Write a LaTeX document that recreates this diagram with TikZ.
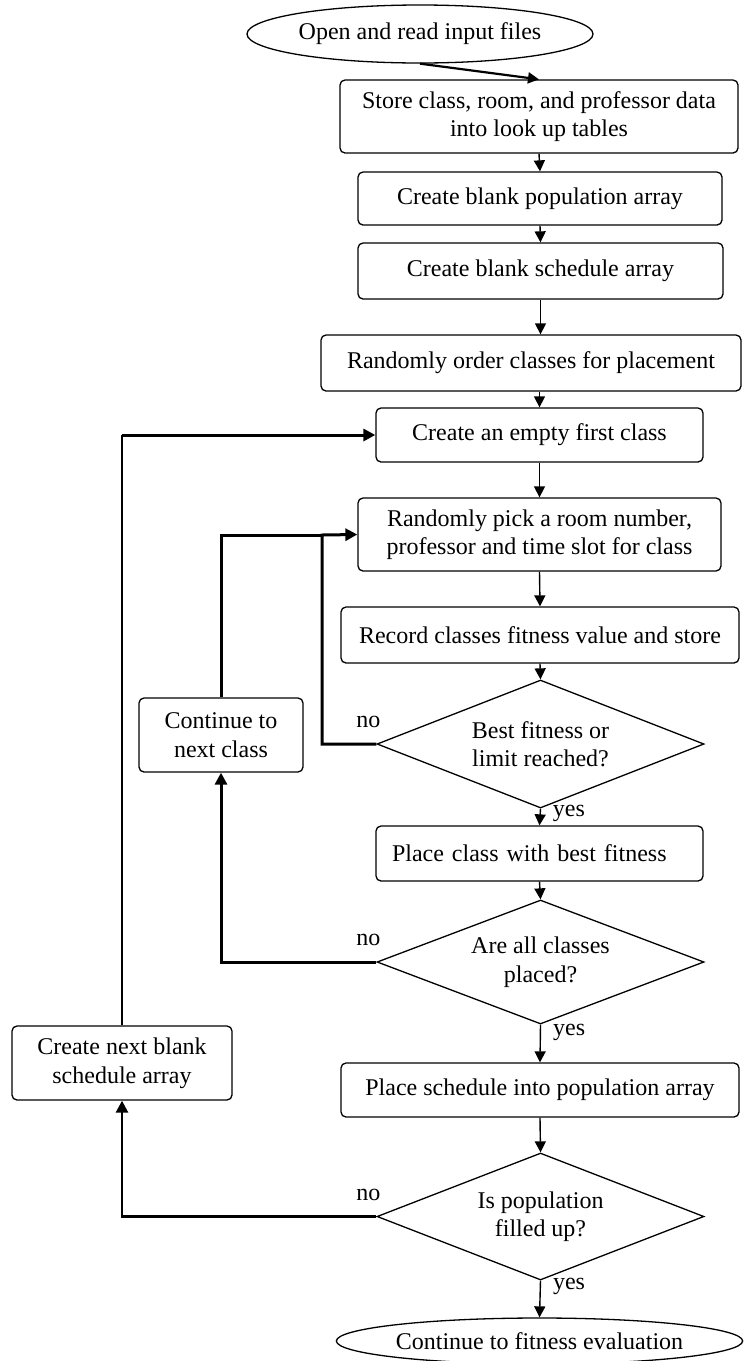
\documentclass[tikz,border=0pt]{standalone}
\usepackage{fontspec}
\setmainfont{Liberation Serif}
\usetikzlibrary{shapes.geometric,arrows.meta}
\begin{document}
\begin{tikzpicture}[x=1pt,y=-1pt,
  every node/.style={font=\fontsize{24pt}{28.5pt}\selectfont},
  box/.style={draw, line width=1.3pt, rounded corners=5pt, inner sep=0pt, align=center},
  term/.style={draw, ellipse, line width=1.3pt, inner sep=0pt},
  dec/.style={draw, diamond, line width=1.3pt, inner sep=0pt, aspect=2.55, align=center},
  flow/.style={line width=1.4pt, -{Triangle[length=11pt,width=11pt]}},
  back/.style={line width=3pt, -{Triangle[length=12pt,width=12pt]}},
  lbl/.style={inner sep=0pt}
]
\useasboundingbox (0,0) rectangle (744,1361);

\node[term, minimum width=346pt, minimum height=58pt] (start) at (420,34) {Open and read input files};
\node[box, minimum width=398pt, minimum height=73pt] (b1) at (539,116.5) {Store class, room, and professor data\\into look up tables};
\node[box, minimum width=364pt, minimum height=53pt] (b2) at (540,198.5) {Create blank population array};
\node[box, minimum width=365pt, minimum height=56pt] (b3) at (540.5,271) {Create blank schedule array};
\node[box, minimum width=420pt, minimum height=56pt] (b4) at (531,363) {Randomly order classes for placement};
\node[box, minimum width=327pt, minimum height=54pt] (b5) at (539.5,435) {Create an empty first class};
\node[box, minimum width=363pt, minimum height=73pt] (b6) at (539.5,534.5) {Randomly pick a room number,\\professor and time slot for class};
\node[box, minimum width=398pt, minimum height=56pt] (b7) at (540,635) {Record classes fitness value and store};
\node[dec, minimum width=327pt, minimum height=128pt] (d1) at (540.5,744) {Best fitness or\\limit reached?};
\node[box, minimum width=327pt, minimum height=55pt, text width=295pt, align=left] (b8) at (539.5,853.5) {Place class with best fitness};
\node[dec, minimum width=327pt, minimum height=124pt] (d2) at (540.5,962) {Are all classes\\placed?};
\node[box, minimum width=398pt, minimum height=54pt] (b9) at (540,1090) {Place schedule into population array};
\node[dec, minimum width=327pt, minimum height=127pt] (d3) at (540.5,1216.5) {Is population\\filled up?};
\node[term, minimum width=399pt, minimum height=46pt] (end) at (539.5,1341) {Continue to fitness evaluation};
\node[box, minimum width=164pt, minimum height=74pt] (cont) at (221,735) {Continue to\\next class};
\node[box, minimum width=220pt, minimum height=74pt] (next) at (122,1063) {Create next blank\\schedule array};

\draw[flow, line width=2.2pt] (start.south) -- (b1.north);
\draw[flow] (b1.south) -- (b2.north);
\draw[flow] (b2.south) -- (b3.north);
\draw[flow] (b3.south) -- (b3.south |- b4.north);
\draw[flow] (b5.north |- b4.south) -- (b5.north);
\draw[flow] (b5.south) -- (b6.north);
\draw[flow] (b6.south) -- (b7.north);
\draw[flow] (b7.south) -- (d1.north);
\draw[flow] (d1.south) -- node[lbl, pos=0.3, anchor=west, xshift=12pt] (y1) {yes} (b8.north);
\draw[flow] (b8.south) -- (d2.north);
\draw[flow] (d2.south) -- node[lbl, pos=0.2, anchor=west, xshift=12pt] (y2) {yes} (b9.north);
\draw[flow] (b9.south) -- (d3.north);
\draw[flow] (d3.south) -- node[lbl, pos=0.15, anchor=west, xshift=12pt] (y3) {yes} (end.north);

\coordinate (j1) at (322,535);
\draw[back] (d1.west) -| (j1) -- (b6.west);
\draw[line width=3pt] (cont.north) |- (j1);
\draw[back] (d2.west) -| (cont.south);
\draw[back, line width=2.6pt] (d3.west) -| (next.south);
\draw[line width=1.4pt] (next.north) -- (next.north |- b5.west);
\draw[back] (next.north |- b5.west) -- (b5.west);

\node[lbl] (no1) at ([xshift=-8pt, yshift=22pt]d1.west) {no};
\node[lbl] (no2) at ([xshift=-8pt, yshift=22pt]d2.west) {no};
\node[lbl] (no3) at ([xshift=-8pt, yshift=21.5pt]d3.west) {no};
\end{tikzpicture}
\end{document}
